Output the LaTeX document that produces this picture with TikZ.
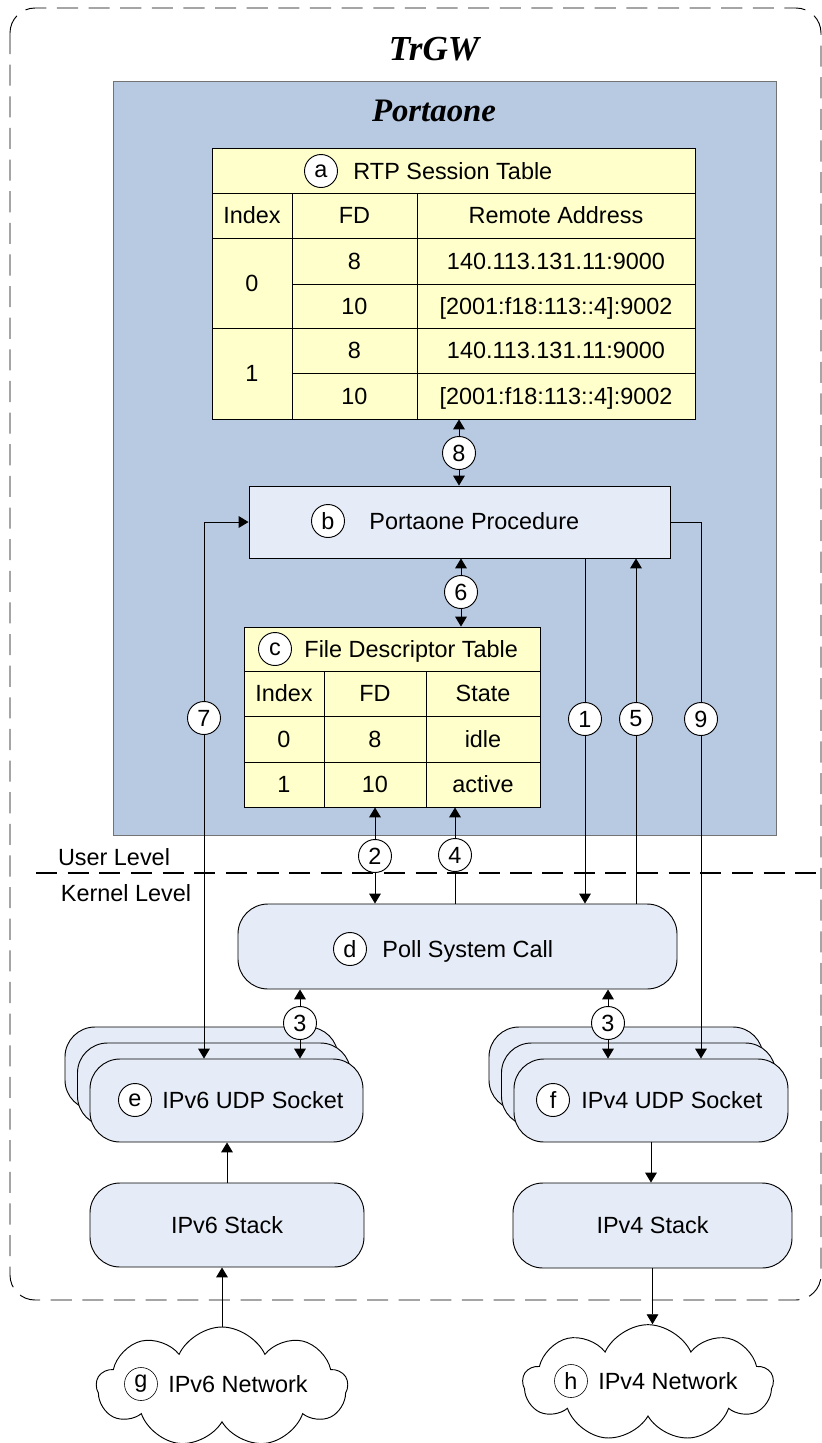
\documentclass[tikz,border=0pt]{standalone}
\usepackage{fontspec}
\setmainfont{Liberation Sans}
\newfontfamily\headfont{Liberation Serif}
\usetikzlibrary{positioning,shapes.symbols,arrows.meta}

\definecolor{portblue}{RGB}{184,201,226}
\definecolor{boxblue}{RGB}{230,236,247}
\definecolor{tabyellow}{RGB}{255,255,204}

\tikzset{
  tag/.style={draw,circle,fill=white,inner sep=0pt,minimum size=0.99cm},
  txt/.style={inner sep=0pt,text height=14.3pt,text depth=0pt},
  head/.style={inner sep=0pt,font=\headfont\bfseries\itshape\fontsize{#1}{#1}\selectfont},
  tab/.style={draw,fill=tabyellow,inner sep=0pt},
  procbox/.style={draw,fill=boxblue,inner sep=0pt},
  kbox/.style={draw,fill=boxblue,rounded corners=0.9cm,inner sep=0pt},
  net/.style={draw,cloud,cloud puffs=9,cloud puff arc=130,aspect=2,fill=white,inner sep=0pt},
}

\begin{document}
\begin{tikzpicture}[x=0.03cm,y=-0.03cm,line width=0.8pt,
    >={Triangle[length=8.5pt,width=10pt]},font=\fontsize{20}{24}\selectfont]
  \useasboundingbox (0,0) rectangle (822,1443);
  % TrGW frame
  \draw[dash pattern=on 18pt off 9pt,rounded corners=0.75cm] (10,8) rectangle (821,1300);
  \node[head=30] (trgw) at (434,49) {TrGW};
  % Portaone
  \node[draw=black!55,fill=portblue,minimum width=19.89cm,minimum height=22.62cm] (porta) at (444.5,458) {};
  \node[head=28] (portatxt) at (434,111) {Portaone};

  % RTP session table
  \node[tab,minimum width=14.49cm,minimum height=8.13cm] (rtp) at (453.5,283.5) {};
  \draw (212,193) -- (695,193) (212,238) -- (695,238) (212,328) -- (695,328)
        (292,284) -- (695,284) (292,373) -- (695,373)
        (292,193) -- (292,419) (417,193) -- (417,419);
  \node[tag] (ta) at (321,171) {a};
  \node[txt,right=0.45cm of ta] (rtptitle) {RTP Session Table};
  \node[txt] (rh1) at (252,215.5) {Index};
  \node[txt] (rh2) at (354.5,215.5) {FD};
  \node[txt] (rh3) at (556,215.5) {Remote Address};
  \node[txt] (ri0) at (252,283.5) {0};
  \node[txt] (ri1) at (252,373.5) {1};
  \foreach \y/\fd/\addr [count=\k] in {261/8/140.113.131.11:9000, 306/10/{[2001:f18:113::4]:9002},
      350.5/8/140.113.131.11:9000, 396/10/{[2001:f18:113::4]:9002}}
    {\node[txt] (rf\k) at (354.5,\y) {\fd};
     \node[txt] (ra\k) at (556,\y) {\addr};}

  % procedure
  \node[procbox,minimum width=12.63cm,minimum height=2.16cm] (proc) at (459.5,522) {};
  \node[tag] (tb) at (328,521) {b};
  \node[txt,right=0.72cm of tb] (proctxt) {Portaone Procedure};

  % file descriptor table
  \node[tab,minimum width=8.88cm,minimum height=5.4cm] (fdt) at (392,717) {};
  \draw (244,671) -- (540,671) (244,716) -- (540,716) (244,762) -- (540,762)
        (324,671) -- (324,807) (426,671) -- (426,807);
  \node[tag] (tc) at (275,649) {c};
  \node[txt,right=0.36cm of tc] (fdtitle) {File Descriptor Table};
  \foreach \y/\ix/\fd/\st [count=\k] in {693.5/Index/FD/State, 739/0/8/idle, 784.5/1/10/active}
    {\node[txt] (fi\k) at (284,\y) {\ix};
     \node[txt] (ff\k) at (375,\y) {\fd};
     \node[txt] (fs\k) at (483,\y) {\st};}

  % levels
  \node[txt] (user) at (114,857) {User Level};
  \node[txt] (kern) at (126,893) {Kernel Level};
  \draw[line width=2.2pt,dash pattern=on 18pt off 9pt] (36,873) -- (822,873);

  % kernel
  \node[kbox,minimum width=13.17cm,minimum height=2.55cm] (poll) at (457.5,946.5) {};
  \node[tag] (td) at (350,949) {d};
  \node[txt,right=0.45cm of td] (polltxt) {Poll System Call};
  \foreach \k in {2,1}
    {\node[kbox,minimum width=8.19cm,minimum height=2.49cm] (e6b\k) at (226.5-12.5*\k,1100.5-16*\k) {};
     \node[kbox,minimum width=8.22cm,minimum height=2.49cm] (f4b\k) at (651-12.5*\k,1100.5-16*\k) {};}
  \node[kbox,minimum width=8.19cm,minimum height=2.49cm] (e6) at (226.5,1100.5) {};
  \node[tag] (te) at (135,1100) {e};
  \node[txt,right=0.3cm of te] (e6txt) {IPv6 UDP Socket};
  \node[kbox,minimum width=8.22cm,minimum height=2.49cm] (f4) at (651,1100.5) {};
  \node[tag] (tf) at (553,1100) {f};
  \node[txt,right=0.33cm of tf] (f4txt) {IPv4 UDP Socket};
  \node[kbox,minimum width=8.22cm,minimum height=2.52cm] (stack6) at (227,1225) {IPv6 Stack};
  \node[kbox,minimum width=8.37cm,minimum height=2.55cm] (stack4) at (652.5,1225.5) {IPv4 Stack};

  % networks
  \node[net,minimum width=7.53cm,minimum height=3.6cm] (net6) at (222,1387) {};
  \node[tag,line width=0.5pt] (tg) at (141,1384) {g};
  \node[txt,right=0.3cm of tg] (net6txt) {IPv6 Network};
  \node[net,minimum width=7.5cm,minimum height=3.5cm] (net4) at (648,1383) {};
  \node[tag,line width=0.5pt] (th) at (571,1381) {h};
  \node[txt,right=0.3cm of th] (net4txt) {IPv4 Network};

  % steps
  \node[tag] (s8) at (459,453) {8};
  \node[tag] (s6) at (461,592) {6};
  \node[tag] (s7) at (204,718) {7};
  \node[tag] (s1) at (585,719) {1};
  \node[tag] (s5) at (636,719) {5};
  \node[tag] (s9) at (701,719) {9};
  \node[tag] (s2) at (375,856) {2};
  \node[tag] (s4) at (455,855) {4};
  \node[tag] (s3a) at (300,1023) {3};
  \node[tag] (s3b) at (608,1023) {3};

  \path[->]
    (s8) edge (s8 |- rtp.south)
    (s8) edge (s8 |- proc.north)
    (s6) edge (s6 |- proc.south)
    (s6) edge (s6 |- fdt.north)
    (s7) edge (s7 |- e6.north)
    (s1) edge (s1 |- poll.north)
    (s5) edge (s5 |- proc.south)
    (s9) edge (s9 |- f4.north)
    (s2) edge (s2 |- fdt.south)
    (s2) edge (s2 |- poll.north)
    (s4) edge (s4 |- fdt.south)
    (s3a) edge (s3a |- poll.south)
    (s3a) edge (s3a |- e6.north)
    (s3b) edge (s3b |- poll.south)
    (s3b) edge (s3b |- f4.north)
    (stack6) edge (stack6 |- e6.south)
    (net6) edge (net6 |- stack6.south)
    (f4) edge (f4 |- stack4.north)
    (stack4) edge (stack4 |- net4.north);
  \draw[->] (s7) |- (proc.west);
  \draw (s9) |- (proc.east);
  \draw (s1) -- (s1 |- proc.south);
  \draw (s5) -- (s5 |- poll.north);
  \draw (s4) -- (s4 |- poll.north);
\end{tikzpicture}
\end{document}
